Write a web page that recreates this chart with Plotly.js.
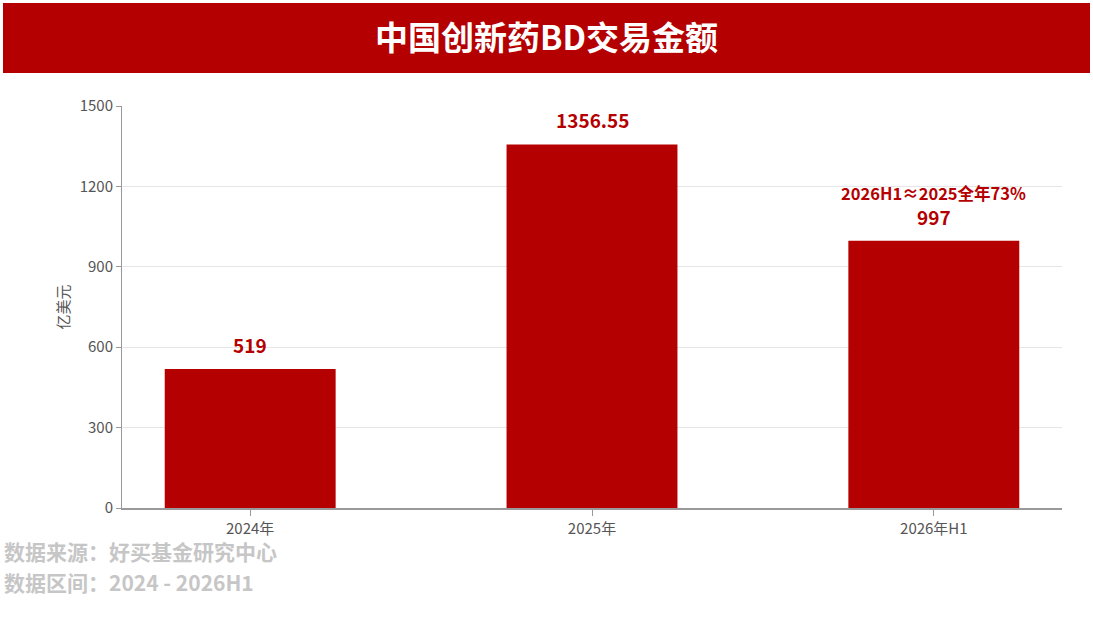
<!DOCTYPE html>
<html>
<head>
<meta charset="utf-8">
<script src="https://cdn.plot.ly/plotly-3.0.1.min.js"></script>
<style>html,body{margin:0;padding:0;background:#fff;}#chart{width:1093px;height:618px;}</style>
</head>
<body>
<div id="chart"></div>
<script>
const categories = ["2024年", "2025年", "2026年H1"];
const values = [519, 1356.55, 997];
const valueLabels = ["519", "1356.55", "997"];
const yTicks = [0, 300, 600, 900, 1200, 1500];
const chartTitle = "中国创新药BD交易金额";
const yTitle = "亿美元";
const noteText = "2026H1≈2025全年73%";
const sourceLines = ["数据来源：好买基金研究中心", "数据区间：2024 - 2026H1"];

const FONT = "'Noto Sans CJK SC', 'Noto Sans', sans-serif";
const RED = "#B40000";

const W = 1093, H = 618;
const L = 122, R = 31, T = 106, B = 110;
const pw = W - L - R, ph = H - T - B;
const px = x => (x - L) / pw;
const py = y => (H - B - y) / ph;

const trace = {
  type: "bar",
  x: [0, 1, 2],
  y: values,
  width: 0.5,
  marker: {color: RED},
  hoverinfo: "skip"
};

const valueAnns = values.map((v, i) => ({
  xref: "x", yref: "y", x: i, y: v,
  text: valueLabels[i], showarrow: false,
  yanchor: "bottom", yshift: 9,
  font: {family: FONT, size: 19, color: RED, weight: 700}
}));

const footerY = [551, 582];
const footerAnns = sourceLines.map((t, i) => ({
  xref: "paper", yref: "paper", x: px(2), y: py(footerY[i]),
  xanchor: "left", yanchor: "middle", showarrow: false,
  text: t,
  font: {family: FONT, size: 21, color: "#c6c6c6", weight: 700}
}));

const layout = {
  width: W, height: H,
  margin: {l: L, r: R, t: T, b: B},
  paper_bgcolor: "#fff",
  plot_bgcolor: "#fff",
  showlegend: false,
  font: {family: FONT},
  title: {
    text: chartTitle,
    font: {family: FONT, size: 33, color: "#fff", weight: 700},
    x: 0.5, xanchor: "center",
    y: 1 - 38 / H, yanchor: "middle", yref: "container"
  },
  xaxis: {
    range: [-0.375, 2.375],
    tickvals: [0, 1, 2],
    ticktext: categories,
    showgrid: false,
    zeroline: false,
    showline: true, linecolor: "#999", linewidth: 1.5,
    ticks: "outside", ticklen: 6, tickcolor: "#999",
    tickfont: {family: FONT, size: 15, color: "#555"}
  },
  yaxis: {
    range: [0, 1500],
    tickvals: yTicks,
    showgrid: true, gridcolor: "#e6e6e6", gridwidth: 1,
    zeroline: false,
    showline: true, linecolor: "#999", linewidth: 1,
    ticks: "outside", ticklen: 5, tickcolor: "#999",
    tickfont: {family: FONT, size: 15, color: "#555"},
    title: {text: yTitle, font: {family: FONT, size: 15, color: "#555"}, standoff: 6}
  },
  shapes: [{
    type: "rect", xref: "paper", yref: "paper",
    x0: px(3), x1: px(1090), y0: py(73), y1: py(3),
    fillcolor: RED, line: {width: 0}, layer: "below"
  }],
  annotations: valueAnns.concat([
    {
      xref: "x", yref: "y", x: 2, y: values[2],
      text: noteText, showarrow: false,
      yanchor: "middle", yshift: 48,
      font: {family: FONT, size: 16.5, color: RED, weight: 700}
    }
  ], footerAnns)
};

Plotly.newPlot("chart", [trace], layout, {displayModeBar: false, staticPlot: true});
</script>
</body>
</html>
